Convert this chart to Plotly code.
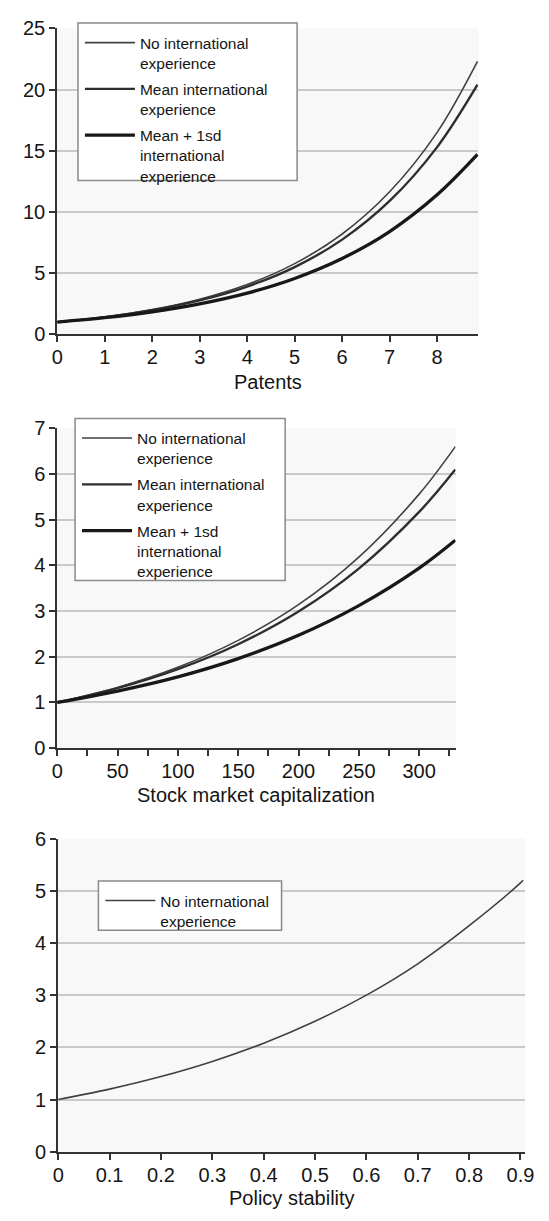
import plotly.graph_objects as go

W, H = 549, 1221

# ---------------- data ----------------
patents_x = [0, 1, 2, 3, 4, 5, 6, 7, 8, 8.85]
patents_none = [1.0, 1.42, 2.02, 2.87, 4.07, 5.78, 8.2, 11.65, 16.5, 22.3]
patents_mean = [1.0, 1.41, 1.98, 2.78, 3.91, 5.5, 7.74, 10.9, 15.3, 20.4]
patents_sd = [1.0, 1.36, 1.84, 2.49, 3.37, 4.57, 6.2, 8.4, 11.4, 14.7]

stock_x = [0, 50, 100, 150, 200, 250, 300, 330]
stock_none = [1.0, 1.33, 1.77, 2.36, 3.14, 4.18, 5.56, 6.6]
stock_mean = [1.0, 1.315, 1.73, 2.275, 2.99, 3.93, 5.17, 6.1]
stock_sd = [1.0, 1.25, 1.56, 1.96, 2.47, 3.12, 3.94, 4.55]

policy_x = [0, 0.1, 0.2, 0.3, 0.4, 0.5, 0.6, 0.7, 0.8, 0.9, 0.905]
policy_none = [1.0, 1.2, 1.44, 1.73, 2.08, 2.5, 3.0, 3.6, 4.33, 5.15, 5.2]

series_names = ["No international<br>experience",
                "Mean international<br>experience",
                "Mean + 1sd<br>international<br>experience"]
axis_titles = ["Patents", "Stock market capitalization", "Policy stability"]

# ---------------- styling ----------------
FONT = "Liberation Sans, Arial, Helvetica, sans-serif"
TXT = "#151515"
styles = [dict(color="#404040", width=1.6),
          dict(color="#2e2e2e", width=2.4),
          dict(color="#181818", width=3.3)]


def px_x(p):
    return p / W


def px_y(p):
    return 1 - p / H


fig = go.Figure()

panels = [
    (patents_x, [patents_none, patents_mean, patents_sd], "x", "y", "legend"),
    (stock_x, [stock_none, stock_mean, stock_sd], "x2", "y2", "legend2"),
    (policy_x, [policy_none], "x3", "y3", "legend3"),
]
for xs, ys_list, xa, ya, lg in panels:
    for i, ys in enumerate(ys_list):
        fig.add_trace(go.Scatter(
            x=xs, y=ys, mode="lines", name=series_names[i],
            line=dict(shape="spline", smoothing=1.0, **styles[i]),
            xaxis=xa, yaxis=ya, legend=lg, legendgroup=f"{lg}{i}",
            showlegend=True, hoverinfo="skip"))

# panel geometry in reference pixels: (left, right, top, bottom)
geo = [(52.7, 485.7, 17.7, 329.3), (52.7, 462.2, 425, 750.7), (53.7, 533.7, 842.7, 1161.7)]

tickfont = dict(family=FONT, size=20, color=TXT)
common_x = dict(ticks="outside", ticklen=6, tickwidth=1.5, tickcolor="#333",
                showline=True, linecolor="#333", linewidth=2,
                showgrid=False, zeroline=False, tickfont=tickfont, fixedrange=True,
                ticklabelstandoff=-2)
common_y = dict(ticks="outside", ticklen=6, tickwidth=1.5, tickcolor="#333",
                showline=True, linecolor="#333", linewidth=2,
                showgrid=True, gridcolor="#c9c9c9", gridwidth=1.6,
                zeroline=False, tickfont=tickfont, fixedrange=True)

layout = dict(
    width=W, height=H, margin=dict(l=0, r=0, t=0, b=0),
    paper_bgcolor="white", plot_bgcolor="#f8f8f8",
    font=dict(family=FONT, color=TXT),
    hovermode=False,
    xaxis=dict(domain=[px_x(geo[0][0]), px_x(geo[0][1])], anchor="y",
               range=[0, 8.87], tick0=0, dtick=1, **common_x),
    yaxis=dict(domain=[px_y(geo[0][3]), px_y(geo[0][2])], anchor="x",
               range=[0, 25], tick0=0, dtick=5, **common_y),
    xaxis2=dict(domain=[px_x(geo[1][0]), px_x(geo[1][1])], anchor="y2",
                range=[0, 330.2], tick0=0, dtick=50,
                minor=dict(dtick=25, ticks="outside", ticklen=6, tickwidth=1.5,
                           tickcolor="#333", showgrid=False), **common_x),
    yaxis2=dict(domain=[px_y(geo[1][3]), px_y(geo[1][2])], anchor="x2",
                range=[0, 7], tick0=0, dtick=1, **common_y),
    xaxis3=dict(domain=[px_x(geo[2][0]), px_x(geo[2][1])], anchor="y3",
                range=[0, 0.909], tick0=0, dtick=0.1, **common_x),
    yaxis3=dict(domain=[px_y(geo[2][3]), px_y(geo[2][2])], anchor="x3",
                range=[0, 6], tick0=0, dtick=1, **common_y),
)

# legend boxes (reference pixels: left, top, right, bottom)
boxes = [(74, 12.3, 299.3, 172.7), (71, 415, 287, 580), (95, 886, 283.3, 936)]
legend_keys = ["legend", "legend2", "legend3"]
shapes = []
for (l, t, r, b), key in zip(boxes, legend_keys):
    shapes.append(dict(type="rect", xref="paper", yref="paper",
                       x0=px_x(l), x1=px_x(r), y0=px_y(b), y1=px_y(t),
                       line=dict(color="#8a8a8a", width=1.5), fillcolor="white",
                       layer="above"))
    layout[key] = dict(x=px_x(l + 2), y=px_y(t + 3), xanchor="left", yanchor="top",
                       bgcolor="rgba(0,0,0,0)", borderwidth=0,
                       font=dict(family=FONT, size=15.5, color=TXT),
                       valign="top", tracegroupgap=3, itemwidth=50,
                       itemclick=False, itemdoubleclick=False)
layout["shapes"] = shapes

annotations = []
for (l, r, t, b), title, off in zip(geo, axis_titles, [49, 48, 47]):
    annotations.append(dict(text=title, xref="paper", yref="paper",
                            x=px_x((l + r) / 2), y=px_y(b + off),
                            xanchor="center", yanchor="middle", showarrow=False,
                            font=dict(family=FONT, size=20, color=TXT)))
layout["annotations"] = annotations

fig.update_layout(**layout)

# remove the default page margin so the figure fills the window exactly
fig.write_html(
    "out.html",
    config={"displayModeBar": False, "staticPlot": False},
    post_script=("document.documentElement.style.margin='0';"
                 "document.body.style.margin='0';"
                 "document.documentElement.style.overflow='hidden';"),
)
